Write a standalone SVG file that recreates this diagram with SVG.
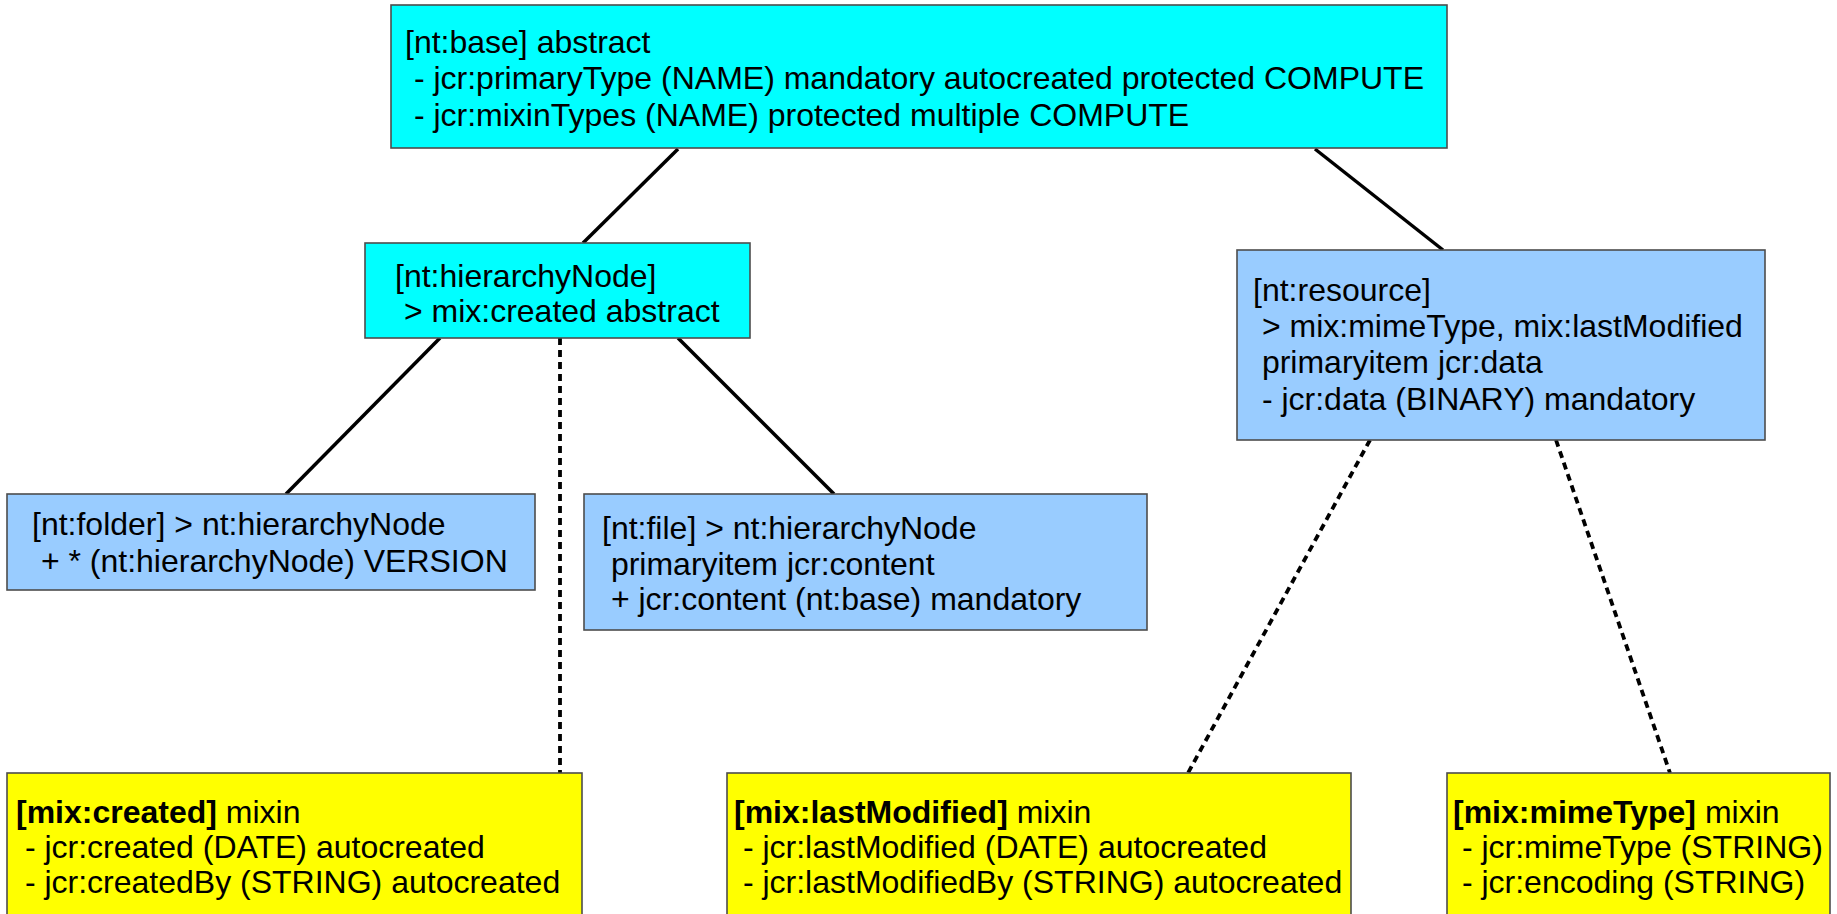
<svg xmlns="http://www.w3.org/2000/svg" width="1837" height="914" viewBox="0 0 1837 914">
<style>
text{font-family:"Liberation Sans",Arial,sans-serif;font-size:32px;fill:#000;white-space:pre}
.b{font-weight:bold}
.box{stroke:#4d4d4d;stroke-width:1.6}
.cyan{fill:#00ffff}
.blue{fill:#99ccff}
.yel{fill:#ffff00}
.solid{stroke:#000;stroke-width:3.5;fill:none}
.dot{stroke:#000;stroke-width:3.8;fill:none;stroke-dasharray:7 5}
</style>
<rect width="1837" height="914" fill="#fff"/>
<g id="connectors">
<line class="solid" x1="678" y1="149" x2="583" y2="243"/>
<line class="solid" x1="1315" y1="149" x2="1443" y2="250"/>
<line class="solid" x1="440" y1="338" x2="286" y2="494"/>
<line class="solid" x1="678" y1="338" x2="834" y2="494"/>
<line class="dot" x1="560" y1="338" x2="560" y2="773"/>
<line class="dot" x1="1370" y1="440" x2="1188" y2="773"/>
<line class="dot" x1="1556" y1="440" x2="1670" y2="773"/>
</g>
<g id="nt-base">
<rect class="box cyan" x="391" y="5" width="1056" height="143"/>
<text xml:space="preserve"><tspan x="405" y="53">[nt:base] abstract</tspan><tspan x="405" y="89"> - jcr:primaryType (NAME) mandatory autocreated protected COMPUTE</tspan><tspan x="405" y="126"> - jcr:mixinTypes (NAME) protected multiple COMPUTE</tspan></text>
</g>
<g id="nt-hierarchyNode">
<rect class="box cyan" x="365" y="243" width="385" height="95"/>
<text xml:space="preserve"><tspan x="395" y="287">[nt:hierarchyNode]</tspan><tspan x="395" y="322"> &gt; mix:created abstract</tspan></text>
</g>
<g id="nt-resource">
<rect class="box blue" x="1237" y="250" width="528" height="190"/>
<text xml:space="preserve"><tspan x="1253" y="301">[nt:resource]</tspan><tspan x="1253" y="337"> &gt; mix:mimeType, mix:lastModified</tspan><tspan x="1253" y="373"> primaryitem jcr:data</tspan><tspan x="1253" y="410"> - jcr:data (BINARY) mandatory</tspan></text>
</g>
<g id="nt-folder">
<rect class="box blue" x="7" y="494" width="528" height="96"/>
<text xml:space="preserve"><tspan x="32" y="535">[nt:folder] &gt; nt:hierarchyNode</tspan><tspan x="32" y="572"> + * (nt:hierarchyNode) VERSION</tspan></text>
</g>
<g id="nt-file">
<rect class="box blue" x="584" y="494" width="563" height="136"/>
<text xml:space="preserve"><tspan x="602" y="539">[nt:file] &gt; nt:hierarchyNode</tspan><tspan x="602" y="575"> primaryitem jcr:content</tspan><tspan x="602" y="610"> + jcr:content (nt:base) mandatory</tspan></text>
</g>
<g id="mix-created">
<rect class="box yel" x="7" y="773" width="575" height="150"/>
<text xml:space="preserve"><tspan x="16" y="823"><tspan class="b">[mix:created]</tspan> mixin</tspan><tspan x="16" y="858"> - jcr:created (DATE) autocreated</tspan><tspan x="16" y="893"> - jcr:createdBy (STRING) autocreated</tspan></text>
</g>
<g id="mix-lastModified">
<rect class="box yel" x="727" y="773" width="624" height="150"/>
<text xml:space="preserve"><tspan x="734" y="823"><tspan class="b">[mix:lastModified]</tspan> mixin</tspan><tspan x="734" y="858"> - jcr:lastModified (DATE) autocreated</tspan><tspan x="734" y="893"> - jcr:lastModifiedBy (STRING) autocreated</tspan></text>
</g>
<g id="mix-mimeType">
<rect class="box yel" x="1447" y="773" width="383" height="150"/>
<text xml:space="preserve"><tspan x="1453" y="823"><tspan class="b">[mix:mimeType]</tspan> mixin</tspan><tspan x="1453" y="858"> - jcr:mimeType (STRING)</tspan><tspan x="1453" y="893"> - jcr:encoding (STRING)</tspan></text>
</g>
</svg>
